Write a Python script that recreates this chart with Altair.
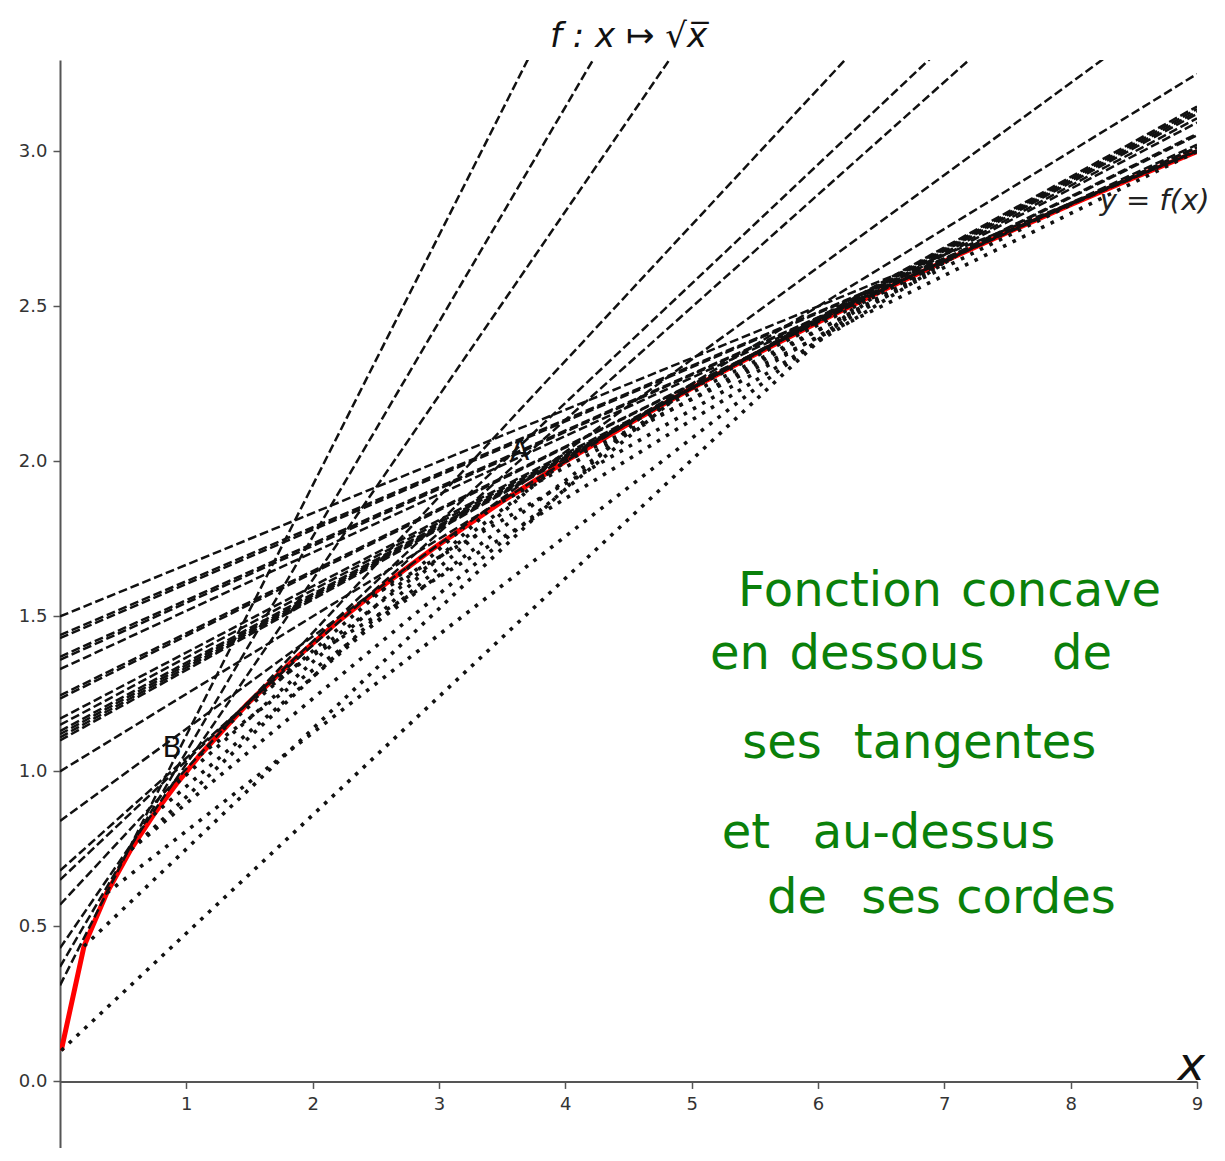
import altair as alt
import pandas as pd

# ---- data ----
curve_x = [0.01, 0.19, 0.37, 0.56, 0.74, 0.93, 1.11, 1.48, 1.84, 2.21, 2.58, 2.95,
           3.5, 4.0, 4.5, 5.0, 5.5, 6.0, 6.5, 7.0, 7.5, 8.0, 8.5, 9.0]
curve_y = [0.10, 0.436, 0.608, 0.748, 0.860, 0.964, 1.054, 1.217, 1.356, 1.487, 1.606, 1.718,
           1.871, 2.0, 2.121, 2.236, 2.345, 2.449, 2.550, 2.646, 2.739, 2.828, 2.915, 3.0]

# tangent lines: value at x = 0 and at x = 9
tangent_y_at_0 = [1.50, 1.44, 1.43, 1.37, 1.36, 1.33, 1.245, 1.235, 1.17, 1.15, 1.13,
                  1.12, 1.11, 1.10, 1.00, 0.84, 0.68, 0.65, 0.57, 0.43, 0.37, 0.31]
tangent_y_at_9 = [3.00, 3.003, 3.003, 3.012, 3.014, 3.022, 3.052, 3.057, 3.093, 3.107, 3.121,
                  3.129, 3.137, 3.145, 3.25, 3.519, 3.951, 4.112, 4.517, 5.777, 6.61, 7.568]

# chords: endpoints on the curve
chord_x0 = [0.01, 0.37, 0.19, 0.56, 0.74, 0.93, 1.11, 1.29, 1.66, 2.4, 3.5, 4.0, 4.5, 5.0, 0.56, 1.48]
chord_y0 = [0.10, 0.608, 0.436, 0.748, 0.860, 0.964, 1.054, 1.136, 1.288, 1.549, 1.871, 2.0, 2.121, 2.236, 0.748, 1.217]
chord_x1 = [6.35, 6.5, 4.6, 4.9, 3.9, 3.2, 4.9, 2.8, 7.1, 7.1, 7.1, 9.0, 8.0, 7.1, 3.4, 4.0]
chord_y1 = [2.52, 2.55, 2.145, 2.214, 1.975, 1.789, 2.214, 1.673, 2.665, 2.665, 2.665, 3.0, 2.828, 2.665, 1.844, 2.0]

x_ticks = [1, 2, 3, 4, 5, 6, 7, 8, 9]
y_ticks = [0.0, 0.5, 1.0, 1.5, 2.0, 2.5, 3.0]

# handwritten note, word by word (centre x, baseline y in data units)
note_words = ["Fonction", "concave", "en", "dessous", "de", "ses", "tangentes",
              "et", "au-dessus", "de", "ses", "cordes"]
note_x = [6.174, 7.924, 5.383, 6.546, 8.090, 5.715, 7.243, 5.430, 6.918, 5.834, 6.657, 7.726]
note_y = [1.535, 1.535, 1.332, 1.332, 1.332, 1.045, 1.045, 0.752, 0.752, 0.542, 0.542, 0.542]

# ---- layout ----
W, H = 1137, 1088
X_MIN, X_MAX = 0.0, 9.0
Y_MAX = 3.295
Y_MIN = Y_MAX - H / 310.0
zero_from_bottom = (0 - Y_MIN) / (Y_MAX - Y_MIN) * H

xs = alt.Scale(domain=[X_MIN, X_MAX], nice=False, zero=False)
ys = alt.Scale(domain=[Y_MIN, Y_MAX], nice=False, zero=False)
xa = alt.Axis(values=x_ticks, title=None, grid=False, offset=-zero_from_bottom, labelFlush=False,
              domainColor="#555", domainWidth=2, tickColor="#555", tickWidth=1.5, tickSize=7,
              labelFont="DejaVu Sans", labelFontSize=18, labelColor="#333", labelPadding=7)
ya = alt.Axis(values=y_ticks, format=".1f", title=None, grid=False, labelFlush=False,
              domainColor="#555", domainWidth=2, tickColor="#555", tickWidth=1.5, tickSize=7,
              labelFont="DejaVu Sans", labelFontSize=18, labelColor="#333", labelPadding=6)

def X(f):
    return alt.X(f, type="quantitative", scale=xs, axis=xa)

def Y(f):
    return alt.Y(f, type="quantitative", scale=ys, axis=ya)

curve_df = pd.DataFrame({"x": curve_x, "y": curve_y})

tan_rows = []
for i, (a, b) in enumerate(zip(tangent_y_at_0, tangent_y_at_9)):
    tan_rows.append({"id": i, "x": 0.0, "y": a})
    tan_rows.append({"id": i, "x": 9.0, "y": b})
tan_df = pd.DataFrame(tan_rows)

ch_rows = []
for i in range(len(chord_x0)):
    ch_rows.append({"id": i, "x": chord_x0[i], "y": chord_y0[i]})
    ch_rows.append({"id": i, "x": chord_x1[i], "y": chord_y1[i]})
ch_df = pd.DataFrame(ch_rows)

curve = alt.Chart(curve_df).mark_line(color="#ff0000", strokeWidth=5, clip=True).encode(
    x=X("x"), y=Y("y"), order="x:Q")

tangents = alt.Chart(tan_df).mark_line(color="#111", strokeWidth=2.5, strokeDash=[8.9, 3.8],
                                       clip=True).encode(x=X("x"), y=Y("y"), detail="id:N")

chords = alt.Chart(ch_df).mark_line(color="#111", strokeWidth=3.6, strokeDash=[3.6, 7],
                                    clip=True).encode(x=X("x"), y=Y("y"), detail="id:N")

notes_df = pd.DataFrame({"t": note_words, "x": note_x, "y": note_y})
notes = alt.Chart(notes_df).mark_text(font="DejaVu Sans", fontSize=48, color="#0a800a",
                                      align="center", baseline="alphabetic").encode(
    x=X("x"), y=Y("y"), text="t:N")

labels_df = pd.DataFrame({
    "t": ["A", "B"],
    "x": [3.64, 0.887],
    "y": [2.03, 1.074],
})
labels = alt.Chart(labels_df).mark_text(font="DejaVu Sans", fontSize=28, color="#111",
                                        align="center", baseline="middle").encode(
    x=X("x"), y=Y("y"), text="t:N")

title_df = pd.DataFrame({"t": ["f : x ↦ √x̅"], "x": [4.5], "y": [3.37]})
title = alt.Chart(title_df).mark_text(font="DejaVu Sans", fontSize=34, fontStyle="italic",
                                      color="#111", align="center", baseline="middle").encode(
    x=X("x"), y=Y("y"), text="t:N")

yf_df = pd.DataFrame({"t": ["y = f(x)"], "x": [8.23], "y": [2.84]})
yf = alt.Chart(yf_df).mark_text(font="DejaVu Sans", fontSize=29, fontStyle="italic",
                                color="#222", align="left", baseline="middle").encode(
    x=X("x"), y=Y("y"), text="t:N")

xl_df = pd.DataFrame({"t": ["x"], "x": [8.955], "y": [0.0]})
xl = alt.Chart(xl_df).mark_text(font="DejaVu Sans", fontSize=46, fontStyle="italic",
                                color="#111", align="center", baseline="alphabetic", dy=-1).encode(
    x=X("x"), y=Y("y"), text="t:N")

chart = alt.layer(curve, tangents, chords, labels, notes, title, yf, xl).properties(
    width=W, height=H,
    autosize=alt.AutoSizeParams(type="none"),
    padding={"left": 52, "top": 52, "right": 17, "bottom": 0},
).configure_view(stroke=None)

chart.save("out.html", embed_options={"renderer": "svg", "actions": False})
